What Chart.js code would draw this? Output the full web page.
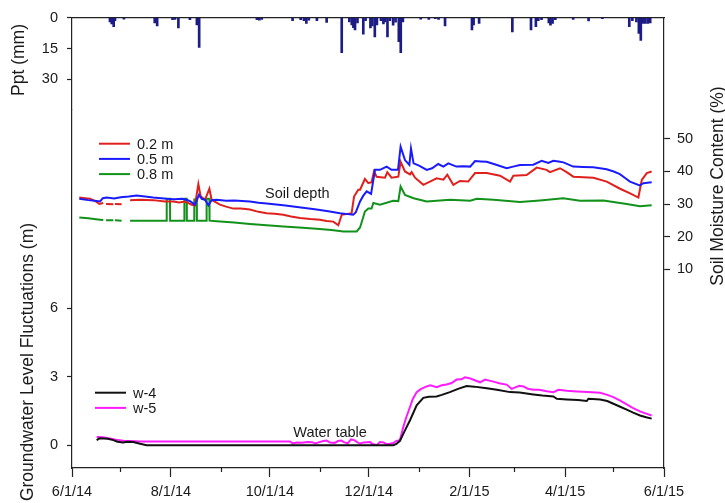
<!DOCTYPE html>
<html lang="en">
<head>
<meta charset="UTF-8">
<title>Precipitation, soil moisture and groundwater</title>
<script src="https://cdn.jsdelivr.net/npm/chart.js"></script>
<style>
  html, body { margin: 0; padding: 0; background: #fff; }
  canvas { display: block; }
</style>
</head>
<body>
<canvas id="chart" width="725" height="503"></canvas>
<script>
// x values are days counted from 6/1/14
const majorDays = [0, 61, 122, 183, 245, 304, 365];
const majorLabels = ['6/1/14', '8/1/14', '10/1/14', '12/1/14', '2/1/15', '4/1/15', '6/1/15'];
const minorDays = [30, 92, 153, 214, 273, 334];
const pptTicks = [0, 15, 30];
const gwTicks = [0, 3, 6];
const soilTicks = [10, 20, 30, 40, 50];

// daily precipitation (mm)
const pptDays = [23.4, 24.5, 25.7, 26.5, 32, 51, 52.5, 62, 63.5, 65.6, 72.7, 77, 78.4, 114, 115.5, 117,
  136, 141, 143, 144.5, 146, 151, 157, 166.3, 171, 172.5, 173.5, 174.5, 176, 179.6, 181, 184, 185.2,
  186.7, 188, 190.5, 192, 193, 194.5, 196, 198, 199.5, 201.5, 202.7, 204, 215, 220, 224, 226, 230,
  246.6, 247.6, 251, 271.5, 283, 286, 287.5, 289.5, 294, 295, 296.3, 298, 309, 318.5, 327, 343.6,
  345.5, 348, 349.5, 350.7, 352, 353.5, 355, 356.5];
const pptMm = [2.0, 3.0, 4.4, 1.5, 0.7, 2.5, 4.0, 1.0, 0.8, 5.0, 1.0, 3.5, 14.5, 1.0, 1.2, 0.8,
  1.5, 1.0, 1.5, 2.8, 1.2, 1.5, 2.3, 17, 2.0, 3.5, 4.8, 6.0, 2.5, 8.0, 1.5, 5.0, 4.0,
  9.3, 3.5, 1.5, 3.0, 2.0, 9.3, 1.5, 3.6, 2.2, 11.7, 17, 2.0, 0.7, 0.8, 0.5, 0.8, 4.0,
  6.0, 3.5, 2.8, 6.9, 6.0, 4.4, 1.5, 1.0, 2.5, 3.6, 2.8, 1.0, 0.8, 1.6, 0.5, 4.4,
  1.5, 2.0, 7.7, 11, 2.8, 2.8, 2.8, 2.5];

// soil moisture (%) at 0.2 m
const soil02Days = [4.5, 8, 11.1, 14, 16.9, 19.3, 20, 21, 25.5, 26, 26.5, 30.6, 33, 35.8, 42, 50.1, 57.3,
  62.5, 66, 69.7, 73.8, 75.8, 77.9, 79.3, 82, 84.7, 86.1, 91.2, 95, 99.5, 104, 109.7, 115, 120, 125,
  130.3, 135, 140.6, 147, 152.9, 157, 161.1, 164.2, 166.3, 169, 172.4, 173.9, 176.5, 177.6, 180.6,
  182.7, 184.7, 186.2, 187.8, 193, 194.4, 197, 201.2, 202.6, 205.3, 208.4, 209.4, 211.5, 216.6,
  220.7, 224.8, 229, 231.4, 235.1, 239.2, 244.3, 248.5, 255.7, 263.9, 270.1, 272.1, 280.3, 286.5,
  292.6, 294.7, 300.9, 305, 309.1, 321.5, 329.7, 337.9, 344.1, 349.2, 351.3, 354.4, 357.4];
const soil02 = [32.0, 31.8, 31.6, 31.0, 30.0, 30.3, null, 30.0, 29.9, null, 30.0, 29.9, null, 31.2, 31.3, 31.2, 30.8,
  30.8, 30.5, 30.8, 29.8, 29.6, 36.1, 32.4, 31.3, 34.7, 31.3, 29.8, 29.2, 28.6, 28.6, 28.3, 27.6, 27.2, 27.0,
  26.7, 26.2, 25.7, 25.4, 25.2, 24.8, 24.6, 23.5, 26.7, 26.9, 27.2, 32.3, 34.4, 34.4, 37.7,
  36.4, 36.7, 40.0, 38.4, 38.1, 39.8, 38.1, 38.4, 43.0, 40.0, 39.1, 39.8, 38.1, 35.9,
  36.9, 37.9, 37.5, 39.0, 35.9, 37.1, 36.9, 39.5, 39.5, 38.7, 36.9, 38.7, 38.9, 41.2,
  40.5, 39.8, 41.0, 39.8, 38.4, 38.1, 36.9, 34.7, 33.3, 32.0, 37.4, 39.5, 40.0];

// soil moisture (%) at 0.5 m
const soil05Days = [4.5, 10, 14, 17.3, 19, 21.4, 26, 30, 35, 39.9, 45, 50, 58.4, 63, 68, 70.7, 73, 75.8,
  78.3, 80, 82, 84.1, 86, 89.2, 95, 100, 109.7, 115, 120, 130.3, 140, 150.8, 158, 165.2, 170, 173.4,
  175, 177.6, 179.5, 181.7, 184.4, 186.8, 189.9, 194, 197, 201, 202.6, 205.3, 208, 209, 210.6, 214,
  218.7, 222, 225.8, 229, 232, 237, 241, 245.5, 248.5, 252, 255.7, 262, 268, 272, 276.2, 284.4,
  289.6, 293.7, 296.7, 300, 303, 309, 315, 321.4, 329.6, 334, 337.8, 341, 344, 350, 352.3, 357.4];
const soil05 = [31.6, 31.2, 31.0, 30.8, 31.8, 32.0, 31.7, 32.1, 32.3, 32.6, 32.3, 32.0, 31.6, 31.5, 31.6, 31.3, 30.8, 29.8,
  32.8, 31.6, 31.3, 29.6, 31.2, 31.3, 31.0, 31.1, 30.8, 30.4, 30.2, 29.6, 29.0, 28.3, 27.8, 27.2, 26.9, 26.7,
  27.5, 30.8, 32.5, 33.9, 33.1, 40.5, 40.5, 41.5, 40.5, 40.5, 47.6, 43.5, 42.0, 47.1, 42.5, 41.8,
  40.5, 41.0, 42.3, 41.5, 42.5, 41.5, 41.6, 41.5, 43.2, 43.1, 43.0, 42.0, 41.0, 41.5, 42.0, 42.1,
  43.3, 42.6, 43.3, 43.1, 42.8, 41.5, 41.4, 41.3, 40.7, 40.0, 39.2, 38.0, 36.9, 35.7, 36.4, 36.7];

// soil moisture (%) at 0.8 m
const soil08Days = [4.5, 10, 17.3, 19.3, 20, 21, 25.5, 26, 26.5, 30.6, 33, 35.8, 45, 58.3, 58.4, 60.4, 60.5,
  69.2, 69.3, 70.7, 70.8, 75.3, 75.4, 76.9, 77, 82.9, 83, 84.7, 84.8, 89.2, 100, 109.7, 120, 130.3,
  140, 150.8, 160, 167.3, 175.5, 177.6, 180.6, 182.7, 184.7, 185.8, 189.9, 198, 201.2, 202.6, 205.3,
  210.6, 218.7, 233.1, 245.5, 249.6, 259.9, 276.2, 288.5, 302.9, 313.2, 327.6, 342, 350.2, 357.4];
const soil08 = [25.9, 25.6, 25.2, 25.1, null, 25.0, 25.0, null, 25.0, 24.9, null, 24.9, 24.9, 24.9, 31.6, 31.6, 24.9,
  24.9, 31.6, 31.6, 24.9, 24.9, 31.4, 31.4, 24.9, 24.9, 31.6, 31.6, 24.9, 24.7, 24.3, 23.9, 23.5, 23.1,
  22.8, 22.4, 22.0, 21.6, 21.6, 22.8, 27.7, 28.6, 28.6, 30.3, 29.8, 31.0, 30.9, 35.4, 32.8,
  31.8, 30.8, 31.3, 31.0, 31.6, 31.3, 30.6, 31.1, 31.8, 31.0, 31.1, 30.0, 29.3, 29.6];

// groundwater level (m), well w-4
const gw4Days = [15.2, 17, 19.3, 22, 25.5, 28, 31.6, 34, 37.8, 42, 46, 60, 100, 150, 198.1, 200, 202.2,
  205, 208.4, 212.5, 216.6, 220, 224.8, 228, 233, 238, 243.3, 248, 255.7, 262, 270.1, 276, 284.5,
  290, 296.8, 298.9, 305, 312, 317.4, 318.4, 325.6, 330, 333.8, 338, 342, 346, 350.2, 354, 357.4];
const gw4 = [0.22, 0.30, 0.29, 0.28, 0.22, 0.15, 0.12, 0.15, 0.14, 0.06, 0.0, 0.0, 0.0, 0.0, 0.0, 0.05, 0.19,
  0.6, 1.09, 1.74, 2.07, 2.12, 2.13, 2.2, 2.32, 2.46, 2.59, 2.56, 2.49, 2.42, 2.32, 2.3, 2.22,
  2.17, 2.13, 2.03, 2.0, 1.97, 1.93, 2.03, 2.0, 1.93, 1.81, 1.68, 1.55, 1.42, 1.30, 1.22, 1.16];

// groundwater level (m), well w-5
const gw5Days = [15.2, 19, 23.4, 27, 31.6, 36, 41.9, 60, 100, 134.4, 136, 139, 142, 145, 148, 150, 152,
  155, 157, 159, 162, 164, 166, 168, 170, 172, 174, 176, 177.6, 180, 183.7, 185, 187.8, 189.9, 192,
  194, 196, 198.1, 200, 202.2, 204.3, 206, 208.4, 210, 212.5, 215, 218.7, 221, 224.8, 228, 231, 234,
  237.2, 240, 242.3, 245, 247.5, 251.6, 254.7, 259.8, 264, 268, 271.1, 274, 276, 278.3, 281, 284.5,
  288, 292.7, 296.8, 299.9, 305, 311.2, 318, 325.6, 330, 333.8, 338, 342, 346, 350.2, 354, 357.4];
const gw5 = [0.36, 0.35, 0.29, 0.24, 0.19, 0.18, 0.16, 0.16, 0.16, 0.16, 0.08, 0.12, 0.10, 0.14, 0.13, 0.07, 0.12,
  0.18, 0.20, 0.12, 0.10, 0.18, 0.20, 0.12, 0.08, 0.25, 0.22, 0.12, 0.07, 0.12, 0.14, 0.06, 0.0, 0.14, 0.12,
  0.04, 0.06, 0.09, 0.18, 0.22, 0.8, 1.2, 1.67, 2.0, 2.32, 2.45, 2.57, 2.62, 2.54, 2.62, 2.65, 2.72,
  2.87, 2.88, 2.97, 2.93, 2.86, 2.75, 2.87, 2.78, 2.70, 2.65, 2.46, 2.55, 2.60, 2.57, 2.47, 2.42,
  2.42, 2.36, 2.32, 2.42, 2.38, 2.35, 2.32, 2.29, 2.2, 2.1, 1.95, 1.78, 1.62, 1.48, 1.38, 1.30];

const fontFamily = "'Liberation Sans', Arial, sans-serif";
const axisColor = '#222';
const textColor = '#1a1a1a';

function points(xs, ys) {
    return xs.map((x, i) => ({ x: x, y: ys[i] }));
}

function fixedTicks(values) {
    return scale => { scale.ticks = values.map(v => ({ value: v })); };
}

function lineSet(label, color, xs, ys, axis) {
    return {
        type: 'line',
        label: label,
        data: points(xs, ys),
        yAxisID: axis,
        borderColor: color,
        backgroundColor: color,
        borderWidth: 2,
        pointRadius: 0,
        tension: 0,
        spanGaps: false
    };
}

const tickFont = { family: fontFamily, size: 14.5 };

// axis titles, legends and the two notes
const overlay = {
    id: 'overlay',
    afterDraw(chart) {
        const { ctx, chartArea, scales } = chart;
        const x = scales.x;
        ctx.save();
        ctx.fillStyle = textColor;

        // rotated axis titles
        ctx.font = '17.5px ' + fontFamily;
        ctx.textAlign = 'center';
        ctx.textBaseline = 'middle';
        const titles = [
            ['Ppt (mm)', 19, 60],
            ['Groundwater Level Fluctuations (m)', 28, 362],
            ['Soil Moisture Content (%)', 718, 186]
        ];
        titles.forEach(([text, tx, ty]) => {
            ctx.save();
            ctx.translate(tx, ty);
            ctx.rotate(-Math.PI / 2);
            ctx.fillText(text, 0, 0);
            ctx.restore();
        });

        // legends
        ctx.font = '14.5px ' + fontFamily;
        ctx.textAlign = 'left';
        const drawLegend = (sets, left, top) => {
            sets.forEach((ds, i) => {
                const y = top + i * 15.2;
                ctx.strokeStyle = ds.borderColor;
                ctx.lineWidth = 2;
                ctx.beginPath();
                ctx.moveTo(left, y);
                ctx.lineTo(left + 31, y);
                ctx.stroke();
                ctx.fillStyle = textColor;
                ctx.fillText(ds.label, left + 38, y + 1);
            });
        };
        const sets = chart.data.datasets;
        drawLegend([sets[2], sets[1], sets[3]], chartArea.left + 27, chartArea.top + 126);
        drawLegend([sets[4], sets[5]], chartArea.left + 23, chartArea.top + 375);

        // notes
        ctx.fillText('Soil depth', x.getPixelForValue(119), scales.ySoil.getPixelForValue(33.2));
        ctx.fillText('Water table', x.getPixelForValue(136.4), scales.yGW.getPixelForValue(0.55));
        ctx.restore();
    }
};

new Chart(document.getElementById('chart'), {
    type: 'line',
    data: {
        datasets: [
            {
                type: 'bar',
                label: 'Ppt',
                data: points(pptDays, pptMm),
                yAxisID: 'yPpt',
                backgroundColor: '#1c1c84',
                barThickness: 2,
                grouped: false
            },
            lineSet('0.5 m', '#1a1aff', soil05Days, soil05, 'ySoil'),
            lineSet('0.2 m', '#e0201c', soil02Days, soil02, 'ySoil'),
            lineSet('0.8 m', '#12921a', soil08Days, soil08, 'ySoil'),
            lineSet('w-4', '#111111', gw4Days, gw4, 'yGW'),
            lineSet('w-5', '#ff1aff', gw5Days, gw5, 'yGW')
        ]
    },
    options: {
        responsive: false,
        animation: false,
        devicePixelRatio: 1,
        layout: { padding: 0 },
        plugins: {
            legend: { display: false },
            tooltip: { enabled: false }
        },
        scales: {
            x: {
                type: 'linear',
                position: 'bottom',
                weight: 1,
                min: 0,
                max: 365,
                offset: false,
                afterBuildTicks: fixedTicks(majorDays),
                afterFit: s => { s.height = 35; },
                ticks: {
                    font: tickFont,
                    color: textColor,
                    padding: 6,
                    maxRotation: 0,
                    autoSkip: false,
                    callback: (v, i) => majorLabels[i]
                },
                grid: { offset: false, drawOnChartArea: false, tickLength: 9, tickColor: axisColor, tickWidth: 1.2 },
                border: { color: axisColor, width: 1.2 }
            },
            xMinor: {
                type: 'linear',
                position: 'bottom',
                weight: 0,
                min: 0,
                max: 365,
                offset: false,
                afterBuildTicks: fixedTicks(minorDays),
                afterFit: s => { s.height = 0; },
                ticks: { callback: () => '' },
                grid: { offset: false, drawOnChartArea: false, tickLength: 4, tickColor: axisColor, tickWidth: 1.2 },
                border: { display: false }
            },
            xTop: {
                type: 'linear',
                position: 'top',
                min: 0,
                max: 365,
                offset: false,
                afterFit: s => { s.height = 15; },
                ticks: { display: false },
                grid: { display: false },
                border: { color: axisColor, width: 1.2 }
            },
            yGW: {
                type: 'linear',
                position: 'left',
                stack: 'left',
                stackWeight: 361,
                min: -1,
                max: 14.7,
                afterBuildTicks: fixedTicks(gwTicks),
                afterFit: s => { s.width = 72; },
                ticks: { font: tickFont, color: textColor, padding: 9 },
                grid: { drawOnChartArea: false, tickLength: 5, tickColor: axisColor, tickWidth: 1.2 },
                border: { color: axisColor, width: 1.2 }
            },
            yPpt: {
                type: 'linear',
                position: 'left',
                stack: 'left',
                stackWeight: 92,
                reverse: true,
                min: 0,
                max: 44.5,
                afterBuildTicks: fixedTicks(pptTicks),
                afterFit: s => { s.width = 72; },
                ticks: { font: tickFont, color: textColor, padding: 9 },
                grid: { drawOnChartArea: false, tickLength: 5, tickColor: axisColor, tickWidth: 1.2 },
                border: { color: axisColor, width: 1.2 }
            },
            ySoil: {
                type: 'linear',
                position: 'right',
                min: -51.1,
                max: 87.25,
                afterBuildTicks: fixedTicks(soilTicks),
                afterFit: s => { s.width = 61; },
                ticks: { font: tickFont, color: textColor, padding: 7 },
                grid: { drawOnChartArea: false, tickLength: 6, tickColor: axisColor, tickWidth: 1.2 },
                border: { color: axisColor, width: 1.2 }
            }
        }
    },
    plugins: [overlay]
});
</script>
</body>
</html>
